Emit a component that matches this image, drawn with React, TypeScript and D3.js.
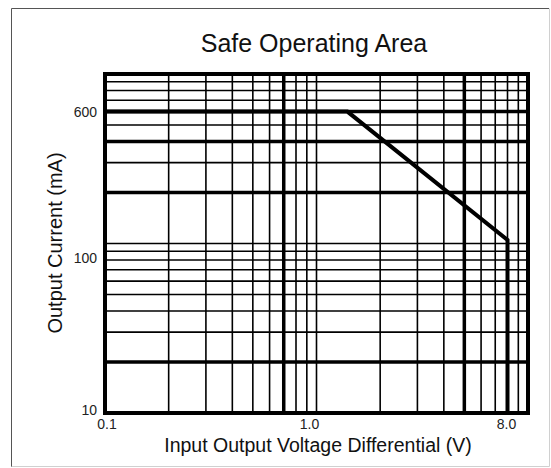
import { useEffect, useRef } from "react";
import * as d3 from "d3";

// Axis domains
const xDomain: [number, number] = [0.1, 10];
const yDomain: [number, number] = [10, 1000];

// Grid lines (log minor ticks) and the heavier ones
const xGrid = [0.2, 0.3, 0.4, 0.5, 0.6, 0.7, 0.8, 0.9, 1, 2, 3, 4, 5, 6, 7, 8, 9];
const xGridHeavy = [0.7, 5];
const yGrid = [20, 30, 40, 50, 60, 70, 80, 90, 100, 200, 300, 400, 500, 600, 700, 800, 900];
const yGridHeavy = [20, 200, 400, 600];

// Tick labels
const xTickValues = [0.1, 1, 8];
const xTickLabels = ["0.1", "1.0", "8.0"];
const yTickValues = [600, 100, 10];
const yTickLabels = ["600", "100", "10"];

// Safe operating area boundary: voltage (V) vs current (mA)
const curveV = [0.1, 1.4, 8, 8];
const curveI = [600, 600, 105, 10];

const W = 551;
const H = 468;
const FONT = "'Liberation Sans', Arial, sans-serif";

export default function App() {
  const svgRef = useRef<SVGSVGElement | null>(null);

  useEffect(() => {
    if (!svgRef.current) return;
    const svg = d3.select(svgRef.current);
    svg.selectAll("*").remove();

    const margin = { top: 74, right: 23, bottom: 55, left: 105 };
    const x = d3.scaleLog().domain(xDomain).range([margin.left, W - margin.right]);
    const y = d3.scaleLog().domain(yDomain).range([H - margin.bottom, margin.top]);
    const [x0, x1] = x.range();
    const [y0, y1] = y.range();

    svg.append("rect").attr("width", W).attr("height", H).attr("fill", "#fff");

    // outer picture border
    svg
      .append("path")
      .attr("d", `M11.5,467 L11.5,8.5 L549,8.5`)
      .attr("fill", "none")
      .attr("stroke", "#555")
      .attr("stroke-width", 1);
    svg
      .append("path")
      .attr("d", `M549.5,8.5 L549.5,466.5 L11.5,466.5`)
      .attr("fill", "none")
      .attr("stroke", "#d0d0d0")
      .attr("stroke-width", 1);

    // title
    svg
      .append("text")
      .attr("x", 314)
      .attr("y", 52)
      .attr("text-anchor", "middle")
      .style("font-family", FONT)
      .style("font-size", "25px")
      .attr("fill", "#111")
      .text("Safe Operating Area");

    const g = svg.append("g");

    // vertical grid
    g.selectAll("line.vx")
      .data(xGrid)
      .join("line")
      .attr("class", "vx")
      .attr("x1", (d) => x(d))
      .attr("x2", (d) => x(d))
      .attr("y1", y1)
      .attr("y2", y0)
      .attr("stroke", "#000")
      .attr("stroke-width", (d) => (xGridHeavy.includes(d) ? 3.5 : 1.6));

    // horizontal grid
    g.selectAll("line.hy")
      .data(yGrid)
      .join("line")
      .attr("class", "hy")
      .attr("x1", x0)
      .attr("x2", x1)
      .attr("y1", (d) => y(d))
      .attr("y2", (d) => y(d))
      .attr("stroke", "#000")
      .attr("stroke-width", (d) => (yGridHeavy.includes(d) ? 3.5 : 1.6));

    // SOA curve
    const pts = curveV.map((v, i) => [v, curveI[i]] as [number, number]);
    g.append("path")
      .datum(pts)
      .attr("fill", "none")
      .attr("stroke", "#000")
      .attr("stroke-width", 4)
      .attr("stroke-linejoin", "miter")
      .attr(
        "d",
        d3
          .line<[number, number]>()
          .x((d) => x(d[0]))
          .y((d) => y(d[1]))
      );

    // frame
    g.append("rect")
      .attr("x", x0)
      .attr("y", y1)
      .attr("width", x1 - x0)
      .attr("height", y0 - y1)
      .attr("fill", "none")
      .attr("stroke", "#000")
      .attr("stroke-width", 4);

    // x tick labels
    svg
      .selectAll("text.xt")
      .data(xTickValues)
      .join("text")
      .attr("class", "xt")
      .attr("x", (d) => x(d) + (d === 1 ? -7 : d === 0.1 ? 2 : -1))
      .attr("y", y0 + 16)
      .attr("text-anchor", "middle")
      .style("font-family", FONT)
      .style("font-size", "14px")
      .attr("fill", "#222")
      .text((_, i) => xTickLabels[i]);

    // y tick labels ("100" sits a little below its line in the original)
    svg
      .selectAll("text.yt")
      .data(yTickValues)
      .join("text")
      .attr("class", "yt")
      .attr("x", x0 - 8)
      .attr("y", (d) => y(d) + (d === 100 ? 15 : d === 10 ? -3 : 0))
      .attr("dy", "0.35em")
      .attr("text-anchor", "end")
      .style("font-family", FONT)
      .style("font-size", "14px")
      .attr("fill", "#222")
      .text((_, i) => yTickLabels[i]);

    // axis titles
    svg
      .append("text")
      .attr("x", 318)
      .attr("y", 452)
      .attr("text-anchor", "middle")
      .style("font-family", FONT)
      .style("font-size", "19.5px")
      .attr("fill", "#111")
      .text("Input Output Voltage Differential (V)");

    svg
      .append("text")
      .attr("transform", `translate(62,243) rotate(-90)`)
      .attr("text-anchor", "middle")
      .style("font-family", FONT)
      .style("font-size", "20px")
      .attr("fill", "#111")
      .text("Output Current (mA)");
  }, []);

  return (
    <div>
      <style>{"body{margin:0}"}</style>
      <svg ref={svgRef} width={W} height={H} style={{ display: "block" }} />
    </div>
  );
}
